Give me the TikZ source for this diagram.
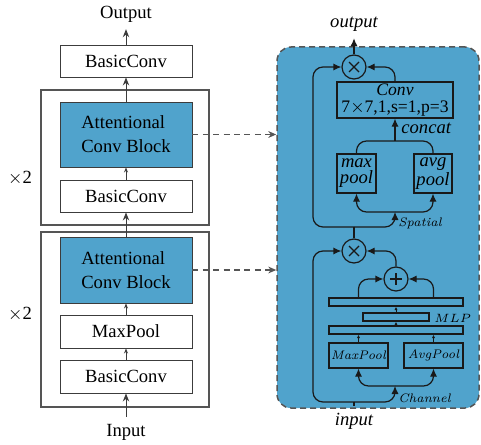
\documentclass[tikz,border=0pt]{standalone}
\usepackage{fontspec}
\newfontfamily\tm{Liberation Serif}
\usetikzlibrary{arrows.meta,calc}
\definecolor{panelblue}{RGB}{80,163,204}
\definecolor{lineg}{RGB}{60,60,60}
\definecolor{frameg}{RGB}{85,85,85}
\definecolor{ink}{RGB}{25,25,25}
\tikzset{
  mainfont/.style={font=\tm\fontsize{9.3}{12}\selectfont},
  lbox/.style={draw=lineg, line width=0.45pt, minimum width=66pt, inner sep=0pt, mainfont},
  frame/.style={draw=frameg, line width=0.55pt, minimum width=84pt, inner sep=0pt},
  ar/.style={-{Stealth[length=4pt,width=3.2pt]}, line width=0.5pt, draw=lineg},
  sar/.style={-{Stealth[length=2.5pt,width=2pt]}, line width=0.45pt, draw=lineg},
  dar/.style={-{Stealth[length=4pt,width=3.4pt]}, draw=frameg, line width=0.65pt, dash pattern=on 3pt off 2.2pt},
  rline/.style={draw=ink, line width=0.6pt},
  rar/.style={rline, -{Latex[length=4pt,width=3.6pt]}},
  rsar/.style={rline, line width=0.5pt, -{Latex[length=1.8pt,width=1.6pt]}},
  rbox/.style={rline, inner sep=0pt},
  opc/.style={rline, circle, minimum size=12pt, inner sep=0pt},
  small/.style={font=\itshape\fontsize{6.2}{7}\selectfont},
}
\begin{document}
\begin{tikzpicture}[x=0.5pt,y=-0.5pt]
\useasboundingbox (0,0) rectangle (481,444);
% ---------- left column ----------
\node[frame, minimum height=67.5pt] (fr1) at (125,157.5) {};
\node[frame, minimum height=87.5pt] (fr2) at (125,319.5) {};
\node[mainfont] (outL) at (126,14) {Output};
\node[lbox, minimum height=16pt] (bc3) at (126,61) {BasicConv};
\node[lbox, fill=panelblue, minimum height=32.5pt, align=left, font=\tm\fontsize{9.3}{12}\selectfont] (acb1) at (126,134.5) {Attentional\\Conv Block};
\node[lbox, minimum height=16pt] (bc2) at (126,196) {BasicConv};
\node[lbox, fill=panelblue, minimum height=33pt, align=left, font=\tm\fontsize{9.3}{12}\selectfont] (acb2) at (126,270) {Attentional\\Conv Block};
\node[lbox, minimum height=16.5pt] (mp) at (126,331.5) {MaxPool};
\node[lbox, minimum height=16.5pt] (bc1) at (126,376.5) {BasicConv};
\node[mainfont] (inL) at (126,432) {Input};
\node[mainfont] (x2a) at (20,178) {$\times$2};
\node[mainfont] (x2b) at (20,314) {$\times$2};

\draw[ar] (inL.north) -- (bc1.south);
\draw[sar] (bc1.north) -- (mp.south);
\draw[sar] (mp.north) -- (acb2.south);
\draw[ar] (acb2.north) -- (bc2.south);
\draw[sar] (bc2.north) -- (acb1.south);
\draw[ar] (acb1.north) -- (bc3.south);
\draw[ar] (bc3.north) -- (outL.south);

% ---------- right panel ----------
\node[draw=frameg, fill=panelblue, line width=0.75pt, dash pattern=on 3pt off 2pt,
      rounded corners=7pt, minimum width=101pt, minimum height=180.5pt, inner sep=0pt] (panel) at (378,227.5) {};
\draw[dar] (acb1.east) -- (acb1.east -| panel.west);
\draw[dar] (acb2.east) -- (acb2.east -| panel.west);

% spatial part
\node[font=\tm\itshape\fontsize{9.3}{12}\selectfont] (outR) at (354,24) {output};
\node[opc] (mul1) at (354,67) {};
\draw[rline] ($(mul1.center)+(-5,-5)$) -- ($(mul1.center)+(5,5)$) ($(mul1.center)+(-5,5)$) -- ($(mul1.center)+(5,-5)$);
\node[rbox, minimum width=58pt, minimum height=18pt, align=center, font=\tm\fontsize{8.8}{8.4}\selectfont] (conv) at (395,100) {\itshape Conv\\7$\times$7,1,s=1,p=3};
\node[rbox, minimum width=19.5pt, minimum height=19.5pt, align=center, font=\tm\itshape\fontsize{9.3}{8}\selectfont] (maxp) at (356.5,173.5) {max\\pool};
\node[rbox, minimum width=19pt, minimum height=19.5pt, align=center, font=\tm\itshape\fontsize{9.3}{8}\selectfont] (avgp) at (433,173.5) {avg\\pool};
\coordinate (cf) at (395,141);
\coordinate (spf) at (395,212);
\coordinate (sp) at (354,227);
\coordinate (lft1) at (313,67);
\draw[rline, rounded corners=5pt] (maxp.north) |- (cf) -| (avgp.north);
\draw[rar] (cf) -- (conv.south);
\node[anchor=west, font=\tm\itshape\fontsize{9.3}{12}\selectfont, inner sep=0pt] (concatL) at (401,128) {concat};
\draw[rar, rounded corners=5pt] (spf) -| (maxp.south);
\draw[rar, rounded corners=5pt] (spf) -| (avgp.south);
\draw[rar, rounded corners=5pt] (sp) -| (spf);
\draw[rar, rounded corners=5pt] (sp) -| (lft1) -- (mul1.west);
\draw[rar, rounded corners=5pt] (conv.north) |- (mul1.east);
\draw[rar] (mul1.north) -- (outR.south);
\node[small, anchor=west, inner sep=0pt] (spL) at (398,223) {Spatial};

% channel part
\node[opc] (mul2) at (354,251) {};
\draw[rline] ($(mul2.center)+(-5,-5)$) -- ($(mul2.center)+(5,5)$) ($(mul2.center)+(-5,5)$) -- ($(mul2.center)+(5,-5)$);
\node[opc] (plus) at (396,279) {};
\draw[rline] ($(plus.center)+(-6,0)$) -- ($(plus.center)+(6,0)$) ($(plus.center)+(0,-6)$) -- ($(plus.center)+(0,6)$);
\node[rbox, minimum width=67pt, minimum height=4pt] (bar2) at (396,302) {};
\node[rbox, minimum width=33pt, minimum height=4pt] (mlp) at (396,317) {};
\node[rbox, minimum width=67pt, minimum height=4pt] (bar1) at (396,330) {};
\node[rbox, minimum width=29.5pt, minimum height=12.5pt, small] (mxp) at (358.5,355.5) {MaxPool};
\node[rbox, minimum width=29.5pt, minimum height=12.5pt, small] (avp) at (433.5,355.5) {AvgPool};
\node[anchor=west, inner sep=0pt, font=\fontsize{6.2}{7}\selectfont] (mlpL) at (434,318) {$MLP$};
\coordinate (chf) at (395,386);
\coordinate (cp) at (354,402);
\coordinate (lft2) at (313,251);
\node[font=\tm\itshape\fontsize{9.3}{12}\selectfont] (inR) at (354,421) {input};
\draw[rline] (inR.north) -- (cp);
\draw[rar, rounded corners=5pt] (cp) -| (chf);
\draw[rar, rounded corners=5pt] (chf) -| (mxp.south);
\draw[rar, rounded corners=5pt] (chf) -| (avp.south);
\draw[rar, rounded corners=5pt] (cp) -| (lft2) -- (mul2.west);
\node[small, anchor=west, inner sep=0pt] (chL) at (398,398) {Channel};
\draw[rsar] (mxp.north) -- (mxp.north |- bar1.south);
\draw[rsar] (avp.north) -- (avp.north |- bar1.south);
\draw[rsar] (bar1.north) -- (mlp.south);
\draw[rsar] (mlp.north) -- (bar2.south);
\draw[rar, rounded corners=5pt] (mxp.north |- bar2.north) |- (plus.west);
\draw[rar, rounded corners=5pt] (avp.north |- bar2.north) |- (plus.east);
\draw[rar, rounded corners=5pt] (plus.north) |- (mul2.east);
\draw[rline] (mul2.north) -- (sp);
\end{tikzpicture}
\end{document}
